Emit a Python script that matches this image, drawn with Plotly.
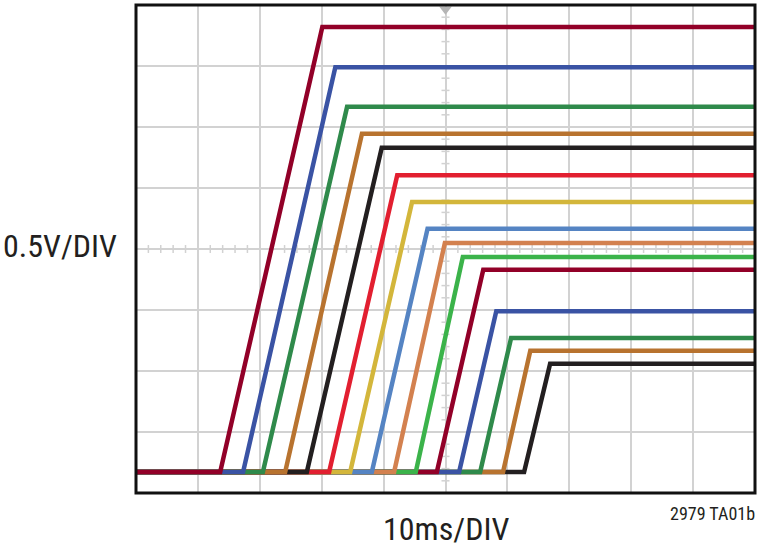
import plotly.graph_objects as go

# oscilloscope capture, units are divisions (10 x 8 screen)
baseline = 0.344
ramp_start = [1.36, 1.73, 2.05, 2.41, 2.76, 3.12, 3.46, 3.81, 4.17, 4.52, 4.86, 5.22, 5.56, 5.93, 6.27]
ramp_end = [3.01, 3.22, 3.41, 3.65, 3.97, 4.22, 4.46, 4.71, 4.99, 5.28, 5.61, 5.82, 6.06, 6.37, 6.69]
level = [7.64, 6.98, 6.33, 5.89, 5.66, 5.21, 4.77, 4.33, 4.10, 3.87, 3.66, 2.98, 2.54, 2.33, 2.12]
colors = ['#920028', '#3a53a4', '#2f8a4b', '#b8732f', '#231f20', '#e21f30', '#d3b63b',
          '#5584c3', '#d3814f', '#3bb34a', '#920028', '#3a53a4', '#2f8a4b', '#b8732f', '#231f20']

font = "Roboto Condensed, DejaVu Sans Condensed, sans-serif"
grid = '#d2d2d2'

fig = go.Figure()

# earlier traces sit on top, so add them in reverse
for i in reversed(range(len(level))):
    fig.add_trace(go.Scatter(
        x=[0, ramp_start[i], ramp_end[i], 10],
        y=[baseline, baseline, level[i], level[i]],
        mode='lines',
        line=dict(color=colors[i], width=4.5),
        showlegend=False,
        hoverinfo='skip'
    ))

# trigger marker on top edge
fig.add_trace(go.Scatter(
    x=[5], y=[7.93], mode='markers',
    marker=dict(symbol='triangle-down', size=11, color='#b5b5b5'),
    showlegend=False, hoverinfo='skip', cliponaxis=False
))

shapes = []
# minor ticks along the centre cross
for k in range(51):
    xv = k * 0.2
    shapes.append(dict(type='line', xref='x', yref='y', x0=xv, x1=xv, y0=4 - 0.065, y1=4 + 0.065,
                       line=dict(color=grid, width=1.5), layer='below'))
for k in range(41):
    yv = k * 0.2
    shapes.append(dict(type='line', xref='x', yref='y', x0=5 - 0.065, x1=5 + 0.065, y0=yv, y1=yv,
                       line=dict(color=grid, width=1.5), layer='below'))
# frame
shapes.append(dict(type='rect', xref='paper', yref='paper', x0=0, x1=1, y0=0, y1=1,
                   line=dict(color='#111111', width=3)))

fig.update_layout(
    width=760, height=554,
    margin=dict(l=136, r=5, t=5, b=61),
    paper_bgcolor='white', plot_bgcolor='white',
    xaxis=dict(range=[0, 10], dtick=1, showgrid=True, gridcolor=grid, gridwidth=1.5,
               zeroline=False, showticklabels=False, ticks=''),
    yaxis=dict(range=[0, 8], dtick=1, showgrid=True, gridcolor=grid, gridwidth=1.5,
               zeroline=False, showticklabels=False, ticks=''),
    shapes=shapes,
    annotations=[
        dict(text='0.5V/DIV', xref='paper', yref='paper', x=(60 - 136) / 619, y=0.506,
             xanchor='center', yanchor='middle',
             showarrow=False, font=dict(family=font, size=32, color='#231f20')),
        dict(text='10ms/DIV', xref='paper', yref='paper', x=0.5008, y=-0.074,
             xanchor='center', yanchor='middle',
             showarrow=False, font=dict(family=font, size=32, color='#231f20')),
        dict(text='2979 TA01b', xref='paper', yref='paper', x=1.003, y=-0.043,
             xanchor='right', yanchor='middle',
             showarrow=False, font=dict(family=font, size=18, color='#231f20')),
    ]
)

fig.write_html("out.html", config={'displayModeBar': False},
               post_script="document.body.style.margin='0';")
